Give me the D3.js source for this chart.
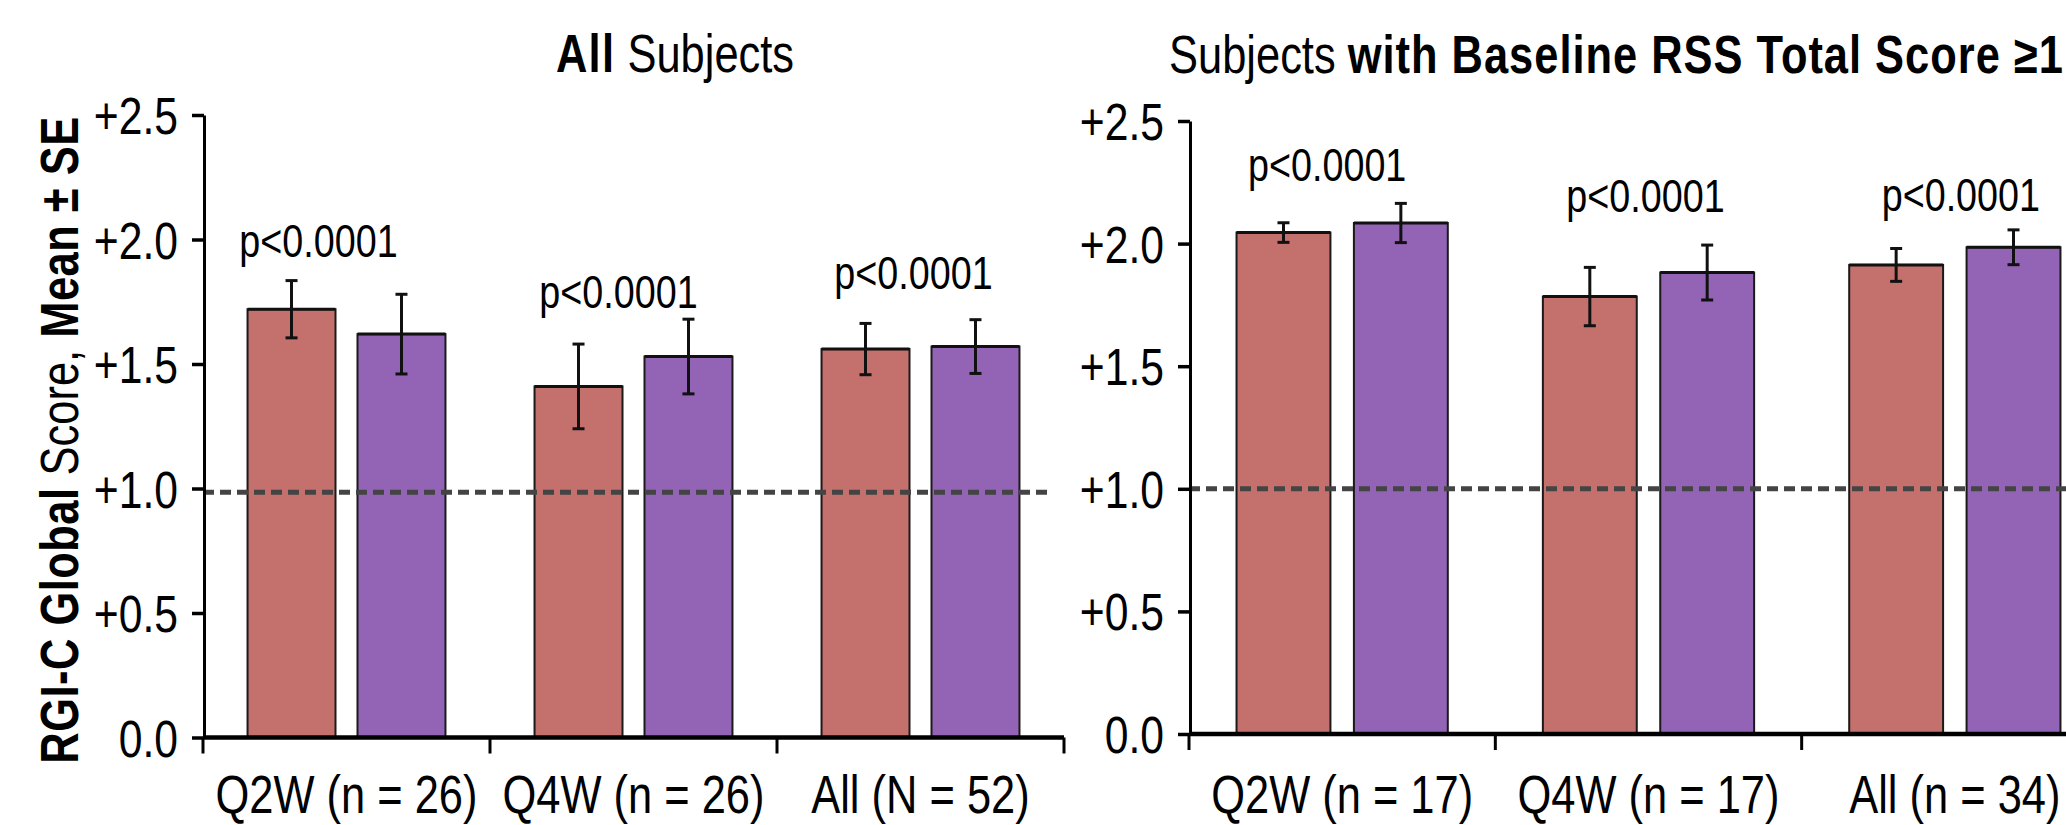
<!DOCTYPE html>
<html>
<head>
<meta charset="utf-8">
<script src="https://cdn.jsdelivr.net/npm/d3@7/dist/d3.min.js"></script>
<style>
  html, body { margin: 0; padding: 0; background: #fff; }
  svg { display: block; }
</style>
</head>
<body>
<svg id="chart" width="2066" height="825"></svg>
<script>
// ---------------- DATA ----------------
const seriesNames = ["Series 1", "Series 2"];

const categoriesAll = ["Q2W (n = 26)", "Q4W (n = 26)", "All (N = 52)"];
const meansAll1 = [1.72, 1.41, 1.56];
const seAll1    = [0.115, 0.17, 0.103];
const meansAll2 = [1.62, 1.53, 1.57];
const seAll2    = [0.16, 0.15, 0.108];
const pTextAll  = ["p<0.0001", "p<0.0001", "p<0.0001"];
const pLevelAll = [1.93, 1.725, 1.80];

const categoriesBase = ["Q2W (n = 17)", "Q4W (n = 17)", "All (n = 34)"];
const meansBase1 = [2.045, 1.784, 1.913];
const seBase1    = [0.04, 0.119, 0.067];
const meansBase2 = [2.084, 1.882, 1.985];
const seBase2    = [0.08, 0.112, 0.071];
const pTextBase  = ["p<0.0001", "p<0.0001", "p<0.0001"];
const pLevelBase = [2.257, 2.128, 2.134];

const yTicks = [0, 0.5, 1.0, 1.5, 2.0, 2.5];
const yDomain = [0, 2.5];
const refLineAll = 0.985;
const refLineBase = 1.0;

const yAxisLabel = [["RGI-C Global", "bold"], [" Score, ", "normal"], ["Mean \u00B1 SE", "bold"]];
const titleAll  = [["All", "bold"], [" Subjects", "normal"]];
const titleBase = [["Subjects ", "normal"], ["with Baseline RSS Total Score \u22651.5", "bold"]];

// ---------------- STYLE ----------------
const colors = ["#C4706C", "#9363B5"];
const svg = d3.select("#chart");

// font detection: narrow font if present, else horizontally scaled regular
function measure(fam) {
  const t = svg.append("text").style("font-family", fam).style("font-size", "100px").text("Q2W (n = 26)");
  const w = t.node().getComputedTextLength(); t.remove(); return w;
}
const wN = measure('"Liberation Sans Narrow", "DejaVu Sans Mono"');
const wR = measure('"Liberation Sans", "DejaVu Sans Mono"');
const narrowOK = (wN / wR) > 0.74 && (wN / wR) < 0.9;
const FAM = narrowOK ? '"Liberation Sans Narrow", "Arial Narrow", sans-serif' : '"Liberation Sans", Arial, sans-serif';
const SX = narrowOK ? 1 : 0.82;

function addText(parent, x, y, parts, o) {
  o = o || {};
  const t = parent.append("text")
    .attr("transform", `translate(${x},${y})` + (o.rotate ? ` rotate(${o.rotate})` : "") + ` scale(${SX},1)`)
    .attr("text-anchor", o.anchor || "middle")
    .style("font-family", FAM)
    .style("font-size", (o.size || 50) + "px")
    .attr("fill", "#000");
  if (typeof parts === "string") parts = [[parts, o.weight || "normal"]];
  parts.forEach(p => {
    const ts = t.append("tspan").attr("font-weight", p[1]).text(p[0]);
    if (p[1] === "bold" && o.boldSpacing) ts.style("letter-spacing", o.boldSpacing + "px");
  });
  return t;
}

const panels = [
  { cats: categoriesAll, m: [meansAll1, meansAll2], se: [seAll1, seAll2], pt: pTextAll, pl: pLevelAll,
    pDx: [-28, -15, -7],
    xr: [203, 1064], yr: [737.5, 115], ref: refLineAll, refEnd: 1050,
    title: titleAll, titleX: 675, titleAnchor: "middle", titleY: 72, titleSpacing: 1.6 },
  { cats: categoriesBase, m: [meansBase1, meansBase2], se: [seBase1, seBase2], pt: pTextBase, pl: pLevelBase,
    pDx: [-15, -3, 6],
    xr: [1189, 2108], yr: [734, 121], ref: refLineBase, refEnd: 2070,
    title: titleBase, titleX: 1169, titleAnchor: "start", titleY: 73, titleSpacing: 1.2 }
];

panels.forEach(P => {
  const g = svg.append("g");
  const x = d3.scaleBand().domain(P.cats).range(P.xr).paddingInner(0).paddingOuter(0);
  const xs = d3.scaleBand().domain(seriesNames).range([0, x.bandwidth()]).paddingInner(0.2).paddingOuter(0.405);
  const y = d3.scaleLinear().domain(yDomain).range(P.yr);

  // bars
  const rows = [];
  P.cats.forEach((c, i) => seriesNames.forEach((s, k) => rows.push({ c, s, k, v: P.m[k][i], e: P.se[k][i] })));
  g.selectAll("rect.bar").data(rows).join("rect")
    .attr("class", "bar")
    .attr("x", d => x(d.c) + xs(d.s))
    .attr("y", d => y(d.v))
    .attr("width", xs.bandwidth())
    .attr("height", d => y(0) - y(d.v))
    .attr("fill", d => colors[d.k])
    .attr("stroke", "#1a1a1a")
    .attr("stroke-width", 2);
  // slightly heavier top edge, as in the reference
  g.selectAll("line.top").data(rows).join("line").attr("class", "top")
    .attr("x1", d => x(d.c) + xs(d.s)).attr("x2", d => x(d.c) + xs(d.s) + xs.bandwidth())
    .attr("y1", d => y(d.v)).attr("y2", d => y(d.v))
    .attr("stroke", "#111").attr("stroke-width", 3);

  // reference dashed line
  g.append("line")
    .attr("x1", P.xr[0]).attr("x2", P.refEnd)
    .attr("y1", y(P.ref)).attr("y2", y(P.ref))
    .attr("stroke", "#444").attr("stroke-width", 5).attr("stroke-dasharray", "11,6");

  // error bars
  const eb = g.selectAll("g.eb").data(rows).join("g").attr("class", "eb")
    .attr("transform", d => `translate(${x(d.c) + xs(d.s) + xs.bandwidth() / 2},0)`);
  eb.append("line").attr("x1", 0).attr("x2", 0)
    .attr("y1", d => y(d.v + d.e)).attr("y2", d => y(d.v - d.e))
    .attr("stroke", "#111").attr("stroke-width", 3);
  [1, -1].forEach(sg => eb.append("line").attr("x1", -6).attr("x2", 6)
    .attr("y1", d => y(d.v + sg * d.e)).attr("y2", d => y(d.v + sg * d.e))
    .attr("stroke", "#111").attr("stroke-width", 3));

  // y axis
  const ya = d3.axisLeft(y).tickValues(yTicks).tickSize(12).tickSizeOuter(0).tickFormat("");
  const yg = g.append("g").attr("transform", `translate(${P.xr[0] + 1},0)`).call(ya);
  yg.select(".domain").attr("stroke", "#000").attr("stroke-width", 3);
  yg.selectAll(".tick line").attr("stroke", "#000").attr("stroke-width", 3.5);
  yTicks.forEach(t => addText(g, P.xr[0] - 25, y(t) + 19, t === 0 ? "0.0" : "+" + d3.format(".1f")(t), { anchor: "end", size: 52 }));

  // x axis (ticks at band boundaries)
  g.append("line").attr("x1", P.xr[0]).attr("x2", P.xr[1])
    .attr("y1", y(0)).attr("y2", y(0)).attr("stroke", "#000").attr("stroke-width", 4.5);
  const bounds = P.cats.map(c => x(c)).concat([P.xr[1]]);
  g.selectAll("line.xt").data(bounds).join("line").attr("class", "xt")
    .attr("x1", d => d).attr("x2", d => d).attr("y1", y(0)).attr("y2", y(0) + 16)
    .attr("stroke", "#000").attr("stroke-width", 3);
  P.cats.forEach(c => addText(g, x(c) + x.bandwidth() / 2, 813, c, { size: 53 }));

  // p-value labels
  P.cats.forEach((c, i) => addText(g, x(c) + x.bandwidth() / 2 + P.pDx[i], y(P.pl[i]), P.pt[i], { size: 46 }));

  // title
  addText(g, P.titleX, P.titleY, P.title, { anchor: P.titleAnchor, size: 53, boldSpacing: P.titleSpacing });
});

// shared y axis label
addText(svg, 78, 440, yAxisLabel, { rotate: -90, size: 53, boldSpacing: 0.6 });
</script>
</body>
</html>
